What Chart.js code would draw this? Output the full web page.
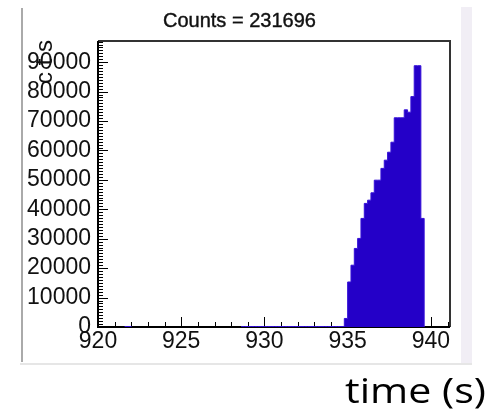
<!DOCTYPE html>
<html>
<head>
<meta charset="utf-8">
<style>
  html, body { margin:0; padding:0; background:#fff; }
  #wrap { width:496px; height:416px; }
</style>
<script src="https://cdn.jsdelivr.net/npm/chart.js@4/dist/chart.umd.min.js"></script>
</head>
<body>
<div id="wrap"><canvas id="c" width="496" height="416"></canvas></div>
<script>
// histogram bins (low edge, 0.2 s wide) and counts
const binWidth = 0.2;
const binLow = [
  921.6, 921.8,
  928.6, 928.8, 929.0, 929.2, 929.4, 929.6, 929.8, 930.0, 930.2, 930.4,
  930.6, 930.8, 931.0, 931.2, 931.4, 931.6, 931.8, 932.0, 932.2, 932.4,
  932.6, 932.8, 933.0, 933.2, 933.4, 933.6, 933.8, 934.0, 934.2, 934.4,
  934.6, 934.8,
  935.0, 935.2, 935.4, 935.6, 935.8, 936.0, 936.2, 936.4, 936.6, 936.8,
  937.0, 937.2, 937.4, 937.6, 937.8, 938.0, 938.2, 938.4, 938.6, 938.8,
  939.0, 939.2, 939.4
];
const counts = [
  150, 150,
  150, 150, 150, 150, 150, 150, 150, 150, 150, 150,
  150, 150, 150, 150, 150, 150, 150, 150, 150, 150,
  150, 150, 150, 150, 150, 150, 150, 150, 150, 150,
  150, 2900,
  15300, 21000, 26700, 30100, 36900, 42000, 43100, 45600, 49900, 49900,
  53900, 56700, 59400, 62800, 71100, 71100, 71100, 73800, 73000, 78300,
  88800, 88800, 36900
];
const xTicks = [920, 925, 930, 935, 940];
const yTicks = [0, 10000, 20000, 30000, 40000, 50000, 60000, 70000, 80000, 90000];
const titleText = 'Counts = 231696';
const yTitle = 'cts';
const xTitle = 'time (s)';

// stepped outline: break the line where bins are not adjacent
const pts = [];
binLow.forEach((x, i) => {
  if (i > 0 && Math.abs(binLow[i-1] + binWidth - x) > 1e-6) {
    pts.push({x: binLow[i-1] + binWidth, y: 0});
    pts.push({x: binLow[i-1] + binWidth, y: null});
  }
  pts.push({x, y: counts[i]});
});
pts.push({x: binLow[binLow.length-1] + binWidth, y: 0});

const frame = {
  id: 'frame',
  beforeDraw(chart){
    const c = chart.ctx;
    c.save();
    c.fillStyle = '#fff'; c.fillRect(0, 0, 496, 416);
    c.fillStyle = '#f1eef5'; c.fillRect(461, 7, 11, 358);
    c.fillStyle = '#aaa'; c.fillRect(21, 8, 2, 354);
    c.fillStyle = '#e6e6e6'; c.fillRect(20, 363, 452, 2);
    c.fillStyle = '#111';
    c.strokeStyle = '#111';
    c.lineWidth = 0.4;
    c.font = '20px "Liberation Sans", Arial, sans-serif';
    c.textBaseline = 'alphabetic';
    c.textAlign = 'left';
    c.fillText(titleText, 163, 27);
    c.strokeText(titleText, 163, 27);
    // y title, rotated, letters spread out
    c.save();
    c.translate(52, 0);
    c.rotate(-Math.PI/2);
    c.textAlign = 'center';
    c.font = '24px "Liberation Sans", Arial, sans-serif';
    const ys = [-78, -62, -46];
    yTitle.split('').forEach((ch, i) => c.fillText(ch, ys[i], 0));
    c.restore();
    // x title
    c.save();
    c.font = '34px "Open Sans", "Liberation Sans", sans-serif';
    const w = c.measureText(xTitle).width;
    c.translate(345, 403);
    c.scale(141 / w, 1);
    c.fillStyle = '#000';
    c.fillText(xTitle, 0, 0);
    c.restore();
    c.restore();
  },
  beforeDatasetsDraw(chart){
    const c = chart.ctx, a = chart.chartArea;
    const xs = chart.scales.x, ys = chart.scales.y;
    c.save();
    c.strokeStyle = '#000';
    c.lineWidth = 1;
    c.beginPath();
    for (let v = 0; v <= ys.max; v += 1000) {
      const y = Math.round(ys.getPixelForValue(v)) + 0.5;
      const len = v % 10000 === 0 ? 10 : 5;
      c.moveTo(a.left, y); c.lineTo(a.left + len, y);
    }
    for (let v = xs.min; v <= xs.max; v += 1) {
      const x = Math.round(xs.getPixelForValue(v)) + 0.5;
      const len = v % 5 === 0 ? 10 : 5;
      c.moveTo(x, a.bottom); c.lineTo(x, a.bottom - len);
    }
    c.stroke();
    c.lineWidth = 2;
    c.strokeStyle = '#333';
    c.beginPath();
    c.moveTo(a.left, a.top); c.lineTo(a.right, a.top); c.lineTo(a.right, a.bottom);
    c.stroke();
    c.strokeStyle = '#000';
    c.beginPath();
    c.moveTo(a.left, a.top); c.lineTo(a.left, a.bottom); c.lineTo(a.right, a.bottom);
    c.stroke();
    c.restore();
  }
};

const tickFont = { family: '"Liberation Sans", Arial, sans-serif', size: 23 };

new Chart(document.getElementById('c'), {
  type: 'line',
  data: { datasets: [{
    data: pts,
    stepped: true,
    spanGaps: false,
    fill: 'origin',
    backgroundColor: '#2400c8',
    borderColor: '#3510d8',
    borderWidth: 1,
    pointRadius: 0
  }]},
  options: {
    responsive: false,
    animation: false,
    layout: { padding: { left: 0, top: 41, right: 46, bottom: 49 } },
    plugins: { legend: { display: false }, tooltip: { enabled: false } },
    scales: {
      x: {
        type: 'linear', min: 920, max: 941.15,
        afterFit: s => { s.height = 40; },
        afterBuildTicks: s => { s.ticks = xTicks.map(v => ({value: v})); },
        grid: { display: false, drawTicks: false },
        border: { display: false },
        ticks: { padding: 1, color: '#111', maxRotation: 0, font: tickFont,
          callback: v => String(v) }
      },
      y: {
        min: 0, max: 97200,
        afterFit: s => { s.width = 98; },
        afterBuildTicks: s => { s.ticks = yTicks.map(v => ({value: v})); },
        grid: { display: false, drawTicks: false },
        border: { display: false },
        ticks: { padding: 7, color: '#111', font: tickFont,
          callback: v => String(v) }
      }
    }
  },
  plugins: [frame]
});
</script>
</body>
</html>
